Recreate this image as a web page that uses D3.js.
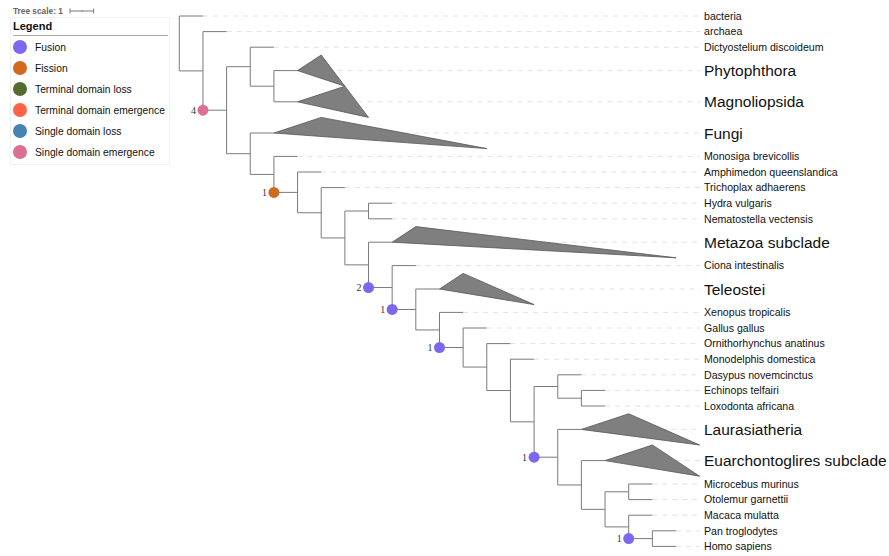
<!DOCTYPE html>
<html>
<head>
<meta charset="utf-8">
<script src="https://cdn.jsdelivr.net/npm/d3@7"></script>
<style>
  html, body { margin: 0; padding: 0; background: #fff; }
  svg { display: block; }
</style>
</head>
<body>
<svg id="chart" width="889" height="556"></svg>
<script>
// ---------------- DATA ----------------
// Cladogram topology (Newick); internal labels mark branches carrying events
const treeNewick = "(bacteria,(archaea,((Dictyostelium discoideum,(Phytophthora,Magnoliopsida)),(Fungi,(Monosiga brevicollis,(Amphimedon queenslandica,(Trichoplax adhaerens,((Hydra vulgaris,Nematostella vectensis),(Metazoa subclade,(Ciona intestinalis,(Teleostei,(Xenopus tropicalis,(Gallus gallus,(Ornithorhynchus anatinus,(Monodelphis domestica,((Dasypus novemcinctus,(Echinops telfairi,Loxodonta africana)),(Laurasiatheria,(Euarchontoglires subclade,((Microcebus murinus,Otolemur garnettii),(Macaca mulatta,(Pan troglodytes,Homo sapiens)HP))))N16))))N12))N10)N9))))N5)))N3));";

// Collapsed clades: name, shortest and longest depth inside the clade (tree units)
const cladeNames = ["Phytophthora", "Magnoliopsida", "Fungi", "Metazoa subclade", "Teleostei", "Laurasiatheria", "Euarchontoglires subclade"];
const cladeMinDepth = [1, 2, 2, 1, 1, 2, 2];
const cladeMaxDepth = [2, 3, 9, 12, 4, 5, 4];

// Events on branches
const eventNodes = ["N3", "N5", "N9", "N10", "N12", "N16", "HP"];
const eventTypes = ["Single domain emergence", "Fission", "Fusion", "Fusion", "Fusion", "Fusion", "Fusion"];
const eventCounts = [4, 1, 2, 1, 1, 1, 1];

// Legend
const legendLabels = ["Fusion", "Fission", "Terminal domain loss", "Terminal domain emergence", "Single domain loss", "Single domain emergence"];
const legendColors = ["#7b68ee", "#d2691e", "#556b2f", "#ff6347", "#4682b4", "#db7093"];

const treeScaleLabel = "Tree scale: 1";

// ---------------- PARSE ----------------
function parseNewick(s) {
  let i = 0;
  function node() {
    const n = {};
    if (s[i] === "(") {
      n.children = [];
      i++;
      n.children.push(node());
      while (s[i] === ",") { i++; n.children.push(node()); }
      i++; // ')'
    }
    let name = "";
    while (i < s.length && !",();".includes(s[i])) name += s[i++];
    n.name = name.trim();
    return n;
  }
  return node();
}

const root = d3.hierarchy(parseNewick(treeNewick));
const cladeIndex = new Map(cladeNames.map((n, i) => [n, i]));

// ---------------- SCALES ----------------
const leaves = root.leaves();
let units = 0;
leaves.forEach(l => {
  const h = cladeIndex.has(l.data.name) ? 2 : 1;
  l.yUnit = units + h / 2;
  units += h;
});
const maxDepth = d3.max(leaves, l => l.depth);
const x = d3.scaleLinear().domain([0, maxDepth]).range([179.3, 676]);
const y = d3.scaleLinear().domain([0, units]).range([8.2, 554.2]);

root.eachAfter(n => {
  if (n.children) {
    n.py = (n.children[0].py + n.children[n.children.length - 1].py) / 2;
  } else {
    n.py = y(n.yUnit);
  }
  n.px = x(n.depth);
});

const colorOf = d3.scaleOrdinal().domain(legendLabels).range(legendColors);

// ---------------- DRAW ----------------
const svg = d3.select("#chart");
const labelX = 704;
const step = x(1) - x(0);
const halfTri = y(1) - y(0);

// dashed guide lines (from the tip / clade apex to the label)
const gGuide = svg.append("g");
leaves.forEach(l => {
  gGuide.append("line")
    .attr("x1", l.px).attr("x2", labelX - 4)
    .attr("y1", l.py).attr("y2", l.py)
    .attr("stroke", "#e2e2e2").attr("stroke-width", 1)
    .attr("stroke-dasharray", "5,5");
});

// branches
const gBr = svg.append("g").attr("fill", "none").attr("stroke", "#7a7a7a").attr("stroke-width", 1);
root.descendants().forEach(n => {
  if (n.parent) {
    gBr.append("line").attr("x1", n.parent.px).attr("x2", n.px).attr("y1", n.py).attr("y2", n.py);
  }
  if (n.children) {
    const c = n.children;
    gBr.append("line").attr("x1", n.px).attr("x2", n.px).attr("y1", c[0].py).attr("y2", c[c.length - 1].py);
  }
});

// collapsed clade triangles
const gTri = svg.append("g");
leaves.forEach(l => {
  const ci = cladeIndex.get(l.data.name);
  if (ci === undefined) return;
  const pts = [
    [l.px, l.py],
    [x(l.depth + cladeMinDepth[ci]), l.py - halfTri],
    [x(l.depth + cladeMaxDepth[ci]), l.py + halfTri]
  ];
  gTri.append("path")
    .attr("d", d3.line()(pts) + "Z")
    .attr("fill", "#7f7f7f")
    .attr("stroke", "#555")
    .attr("stroke-width", 0.8)
    .attr("stroke-linejoin", "miter");
});

// leaf labels
const gLab = svg.append("g").attr("font-family", "'Liberation Sans', Arial, sans-serif").attr("fill", "#111");
leaves.forEach(l => {
  const isClade = cladeIndex.has(l.data.name);
  gLab.append("text")
    .attr("x", labelX).attr("y", l.py)
    .attr("dy", "0.36em")
    .attr("font-size", isClade ? 15.5 : 10.6)
    .text(l.data.name);
});

// events
const gEv = svg.append("g");
root.descendants().forEach(n => {
  const ei = eventNodes.indexOf(n.data.name);
  if (ei < 0 || !n.parent) return;
  const cx = n.parent.px, cy = n.py;
  gEv.append("circle").attr("cx", cx).attr("cy", cy).attr("r", 5.5)
    .attr("fill", colorOf(eventTypes[ei]));
  gEv.append("text")
    .attr("x", cx - 7).attr("y", cy).attr("dy", "0.35em")
    .attr("text-anchor", "end")
    .attr("font-family", "'Liberation Serif', 'DejaVu Serif', serif")
    .attr("font-size", 10)
    .attr("fill", "#333")
    .text(eventCounts[ei]);
});

// tree scale
const gScale = svg.append("g");
gScale.append("text").attr("x", 13).attr("y", 14)
  .attr("font-family", "'Liberation Sans', Arial, sans-serif")
  .attr("font-size", 8.3).attr("font-weight", "bold").attr("fill", "#666")
  .text(treeScaleLabel);
const sx0 = 70, sx1 = 70 + step, sy = 11;
gScale.append("line").attr("x1", sx0).attr("x2", sx1).attr("y1", sy).attr("y2", sy).attr("stroke", "#777");
[sx0, sx1].forEach(v => gScale.append("line").attr("x1", v).attr("x2", v).attr("y1", sy - 2.5).attr("y2", sy + 2.5).attr("stroke", "#777"));
gScale.append("line").attr("x1", (sx0 + sx1) / 2).attr("x2", (sx0 + sx1) / 2).attr("y1", sy - 1.2).attr("y2", sy + 1.2).attr("stroke", "#999");

// legend
const gLeg = svg.append("g").attr("font-family", "'Liberation Sans', Arial, sans-serif");
gLeg.append("rect").attr("x", 10.5).attr("y", 17.5).attr("width", 159).attr("height", 147)
  .attr("fill", "#fff").attr("stroke", "#f0f0f0");
gLeg.append("text").attr("x", 13).attr("y", 30).attr("font-size", 11).attr("font-weight", "bold").attr("fill", "#111").text("Legend");
gLeg.append("line").attr("x1", 13).attr("x2", 168).attr("y1", 35.5).attr("y2", 35.5).attr("stroke", "#aaa").attr("stroke-width", 1.2);
legendLabels.forEach((lab, i) => {
  const cy = 47 + i * 21;
  gLeg.append("circle").attr("cx", 20).attr("cy", cy).attr("r", 7).attr("fill", legendColors[i]);
  gLeg.append("text").attr("x", 35).attr("y", cy).attr("dy", "0.36em").attr("font-size", 10.3).attr("fill", "#111").text(lab);
});
</script>
</body>
</html>
